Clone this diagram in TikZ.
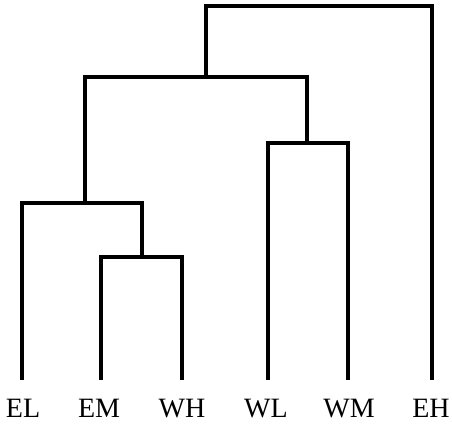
\documentclass[tikz,border=0pt]{standalone}
\usepackage{fontspec}
\setmainfont{Liberation Serif}
\begin{document}
\begin{tikzpicture}[x=1pt,y=-1pt,
  branch/.style={line width=3.2pt,line join=miter},
  leaf/.style={font=\fontsize{28}{30}\selectfont,inner sep=0pt,anchor=base}]
\useasboundingbox (0,0) rectangle (452,423);
% leaf labels
\node[leaf] (EL) at (23,417) {EL};
\node[leaf] (EM) at (99,417) {EM};
\node[leaf] (WH) at (182,417) {WH};
\node[leaf] (WL) at (266,417) {WL};
\node[leaf] (WM) at (349,417) {WM};
\node[leaf] (EH) at (431,417) {EH};
% leaf ends
\coordinate (lEL) at (22,380);
\coordinate (lEM) at (101,380);
\coordinate (lWH) at (182,380);
\coordinate (lWL) at (268,380);
\coordinate (lWM) at (348,380);
\coordinate (lEH) at (432,380);
% merges
\draw[branch] (lEM) |- (142,257) -| (lWH);
\draw[branch] (lEL) |- (85,203) -| (142,257);
\draw[branch] (lWL) |- (307,143) -| (lWM);
\draw[branch] (85,203) |- (206,77) -| (307,143);
\draw[branch] (206,77) |- (320,6) -| (lEH);
\end{tikzpicture}
\end{document}
